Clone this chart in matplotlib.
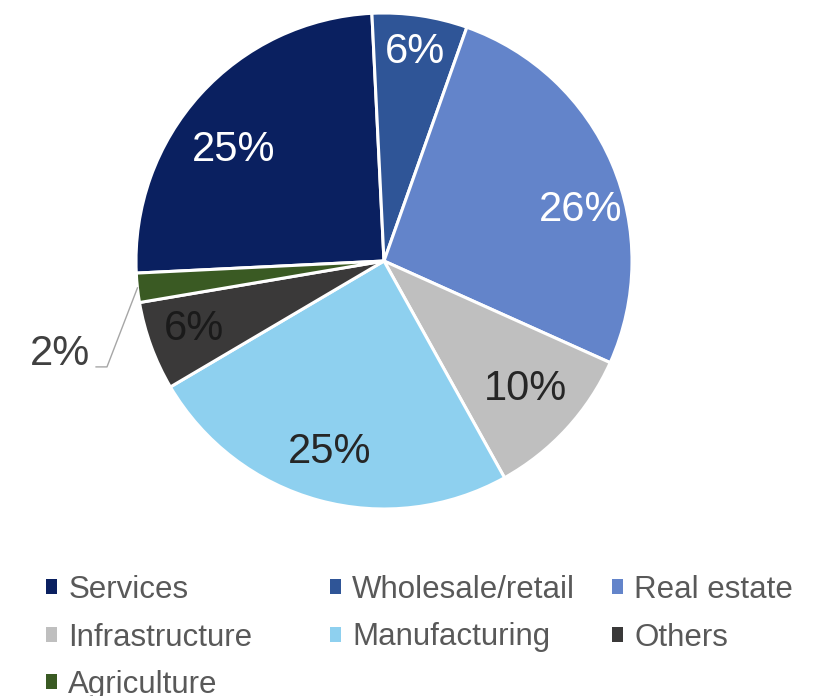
import numpy as np
import matplotlib
matplotlib.use("Agg")
import matplotlib.pyplot as plt
from matplotlib.patches import Patch

plt.rcParams['font.family'] = ['Liberation Sans', 'DejaVu Sans']

# Loan book split by sector (share of total, %)
sectors = ["Services", "Wholesale/retail", "Real estate", "Infrastructure",
           "Manufacturing", "Others", "Agriculture"]
shares = [25.0, 6.2, 26.3, 10.2, 24.6, 5.8, 1.9]
colors = ["#0a2060", "#2f5597", "#6384ca", "#bfbfbf", "#8ed0ef", "#3a3939", "#3a5a23"]
label_colors = ["white", "white", "white", "#262626", "#262626", "#1a1a1a", "#404040"]

W, H = 820, 696
fig = plt.figure(figsize=(W / 100, H / 100), dpi=100)
cx, cy, R = 384, 261, 248
ax = fig.add_axes([(cx - R) / W, (H - cy - R) / H, 2 * R / W, 2 * R / H])

wedges, _ = ax.pie(shares, colors=colors, startangle=182.8, counterclock=False,
                   radius=1.0, wedgeprops=dict(edgecolor="white", linewidth=2.2))
ax.set_xlim(-1, 1)
ax.set_ylim(-1, 1)
ax.set_aspect("equal")
ax.axis("off")

# in-slice percentage labels (radius fraction, angular nudge in degrees)
label_pos = {"Services": (0.76, 5), "Wholesale/retail": (0.86, 0), "Real estate": (0.82, -8),
             "Infrastructure": (0.76, 1), "Manufacturing": (0.79, -1), "Others": (0.81, -1)}
fs_lab = 30
dy = -0.01
for w, name, val, tc in zip(wedges, sectors, shares, label_colors):
    mid = np.deg2rad((w.theta1 + w.theta2) / 2)
    txt = f"{val:.0f}%"
    if name in label_pos:
        r, nudge = label_pos[name]
        a = mid + np.deg2rad(nudge)
        ax.text(r * np.cos(a), r * np.sin(a) + dy, txt, ha="center", va="center",
                fontsize=fs_lab, color=tc)
    else:
        # small slice: label outside with an elbow leader line
        x0, y0 = np.cos(mid), np.sin(mid)
        ax.plot([x0, -1.117, -1.161], [y0, -0.427, -0.427], color="#a6a6a6",
                lw=1.0, clip_on=False)
        ax.text(-1.306, -0.367 + dy, txt, ha="center", va="center",
                fontsize=fs_lab, color=tc)

# legend: three columns laid out row by row
handles = [Patch(facecolor=c, edgecolor="none") for c in colors]
columns = [[0, 3, 6], [1, 4], [2, 5]]
col_x = [46, 330, 612]
top_y = 575
for xs, idx in zip(col_x, columns):
    leg = fig.legend([handles[i] for i in idx], [sectors[i] for i in idx],
                     loc="upper left", bbox_to_anchor=(xs / W, 1 - top_y / H),
                     frameon=False, fontsize=22.5, handlelength=0.36,
                     handleheight=0.36, handletextpad=0.35, labelspacing=0.56,
                     borderpad=0, borderaxespad=0, labelcolor="#595959")

fig.savefig("out.png", dpi=100)
